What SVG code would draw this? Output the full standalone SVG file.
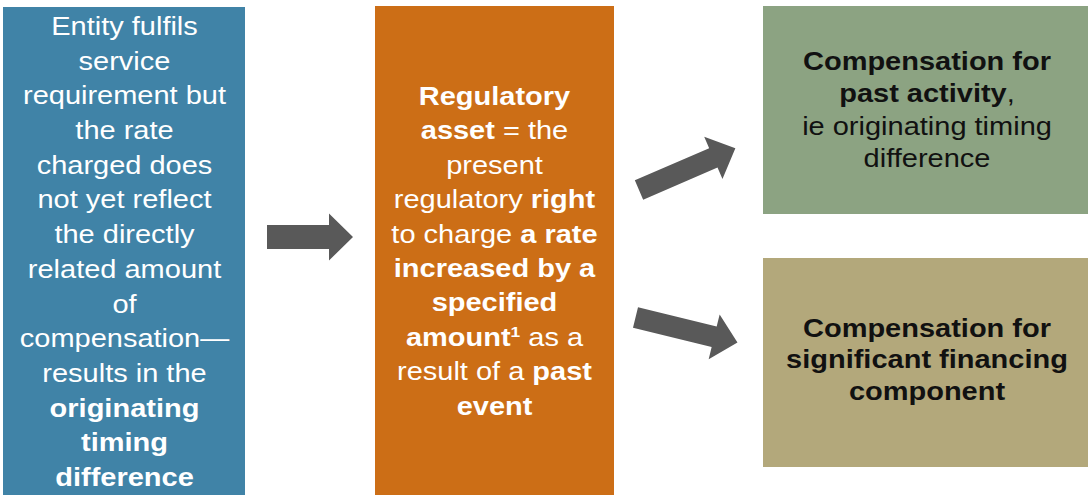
<svg xmlns="http://www.w3.org/2000/svg" width="1088" height="495" viewBox="0 0 1088 495">
<style>
.t{font-family:"Liberation Sans",Arial,sans-serif;font-size:25px;text-anchor:middle}
.w{fill:#ffffff}
.k{fill:#111111}
.b{font-weight:bold}
.arrow{fill:#595959}
</style>
<defs>
<path id="arrH" d="M0,-12 L62,-12 L62,-23.5 L86,0 L62,23.5 L62,12 L0,12 Z"/>
<path id="arrD" d="M0,-10.5 L81,-10.5 L81,-23 L105,0 L81,23 L81,10.5 L0,10.5 Z"/>
</defs>
<rect width="1088" height="495" fill="#ffffff"/>
<g id="node-origin">
<rect x="3" y="7" width="242" height="493" fill="#4083a7"/>
<g transform="translate(124.5,0) scale(1.16,1)">
<text class="t w" x="0" y="35">Entity fulfils</text>
<text class="t w" x="0" y="69.7">service</text>
<text class="t w" x="0" y="104.4">requirement but</text>
<text class="t w" x="0" y="139.1">the rate</text>
<text class="t w" x="0" y="173.8">charged does</text>
<text class="t w" x="0" y="208.5">not yet reflect</text>
<text class="t w" x="0" y="243.2">the directly</text>
<text class="t w" x="0" y="277.9">related amount</text>
<text class="t w" x="0" y="312.6">of</text>
<text class="t w" x="0" y="347.3">compensation—</text>
<text class="t w" x="0" y="382">results in the</text>
<text class="t w b" x="0" y="416.7">originating</text>
<text class="t w b" x="0" y="451.4">timing</text>
<text class="t w b" x="0" y="486.1">difference</text>
</g>
</g>
<g id="node-asset">
<rect x="375" y="6" width="239" height="494" fill="#cc6e16"/>
<g transform="translate(494.5,0) scale(1.16,1)">
<text class="t w b" x="0" y="105">Regulatory</text>
<text class="t w" x="0" y="139.4"><tspan class="b">asset</tspan> = the</text>
<text class="t w" x="0" y="173.8">present</text>
<text class="t w" x="0" y="208.2">regulatory <tspan class="b">right</tspan></text>
<text class="t w" x="0" y="242.6">to charge <tspan class="b">a rate</tspan></text>
<text class="t w b" x="0" y="277">increased by a</text>
<text class="t w b" x="0" y="311.4">specified</text>
<text class="t w" x="0" y="345.8"><tspan class="b">amount</tspan><tspan class="b" font-size="15" dy="-9">1</tspan><tspan dy="9"> as a</tspan></text>
<text class="t w" x="0" y="380.2">result of a <tspan class="b">past</tspan></text>
<text class="t w b" x="0" y="414.6">event</text>
</g>
</g>
<g id="node-past">
<rect x="763" y="6" width="330" height="208" fill="#8ca382"/>
<g transform="translate(927,0) scale(1.16,1)">
<text class="t k b" x="0" y="70">Compensation for</text>
<text class="t k" x="0" y="102.3"><tspan class="b">past activity</tspan>,</text>
<text class="t k" x="0" y="134.6">ie originating timing</text>
<text class="t k" x="0" y="166.9">difference</text>
</g>
</g>
<g id="node-financing">
<rect x="763" y="258" width="330" height="209" fill="#b3a87b"/>
<g transform="translate(927,0) scale(1.16,1)">
<text class="t k b" x="0" y="337">Compensation for</text>
<text class="t k b" x="0" y="368.5">significant financing</text>
<text class="t k b" x="0" y="400">component</text>
</g>
</g>
<g id="connectors">
<use href="#arrH" class="arrow" transform="translate(267,237)"/>
<use href="#arrD" class="arrow" transform="translate(639,190) rotate(-23.4)"/>
<use href="#arrD" class="arrow" transform="translate(635.5,317.5) rotate(13.8)"/>
</g>
</svg>
